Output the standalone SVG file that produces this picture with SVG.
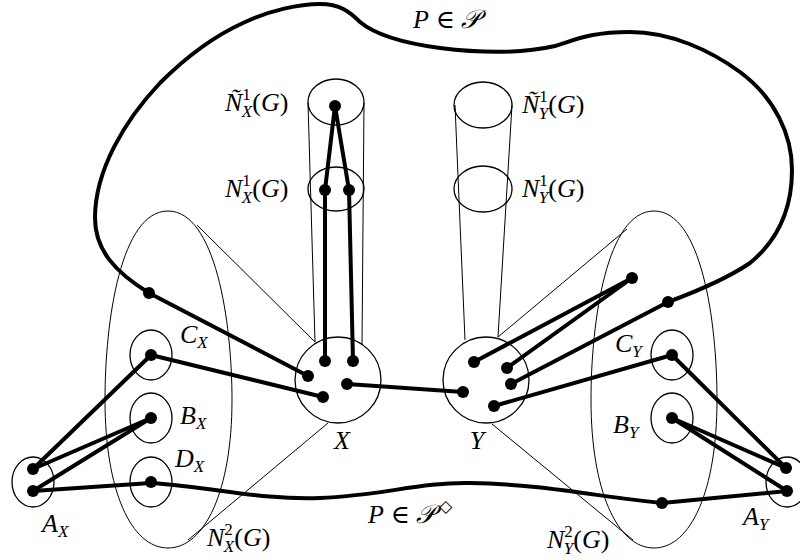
<svg xmlns="http://www.w3.org/2000/svg" width="800" height="560" viewBox="0 0 800 560">
<style>
.thin{fill:none;stroke:#000;stroke-width:1}
.ring{fill:none;stroke:#000;stroke-width:1.3}
.thick{fill:none;stroke:#000;stroke-width:4;stroke-linecap:round;stroke-linejoin:round}
.dot{fill:#000}
.lbl{font-family:"Liberation Serif","DejaVu Serif",serif;font-size:26px;fill:#000}
.it{font-style:italic}
.sm{font-size:17px}
</style>
<rect width="800" height="560" fill="#fff"/>

<g id="N2X">
<path class="thin" d="M168,211 C215,211 232,320 232,400 C232,490 205,548 168,548 C131,548 105,490 105,400 C105,320 121,211 168,211 Z"/>
<text class="lbl" x="207" y="546"><tspan class="it">N</tspan><tspan class="sm" dy="-11">2</tspan><tspan class="sm it" dx="-9" dy="17">X</tspan><tspan dy="-6">(</tspan><tspan class="it">G</tspan><tspan>)</tspan></text>
</g>
<g id="N2Y">
<path class="thin" d="M654,211 C701,211 717,320 717,400 C717,490 691,548 654,548 C617,548 591,490 591,400 C591,320 607,211 654,211 Z"/>
<text class="lbl" x="547" y="548"><tspan class="it">N</tspan><tspan class="sm" dy="-11">2</tspan><tspan class="sm it" dx="-9" dy="17">Y</tspan><tspan dy="-6">(</tspan><tspan class="it">G</tspan><tspan>)</tspan></text>
</g>

<g id="cones" class="thin">
<line x1="197" y1="225" x2="315" y2="342"/>
<line x1="188" y1="540" x2="328" y2="423"/>
<line x1="627" y1="229" x2="498" y2="337"/>
<line x1="633" y1="540" x2="492" y2="424"/>
<line x1="308" y1="103" x2="315" y2="342"/>
<line x1="364" y1="103" x2="362" y2="345"/>
<line x1="455" y1="105" x2="465" y2="340"/>
<line x1="512" y1="105" x2="498" y2="337"/>
</g>

<g id="NtX">
<ellipse class="ring" cx="336" cy="102" rx="28" ry="23"/>
<text class="lbl" x="225" y="111"><tspan class="it">Ñ</tspan><tspan class="sm" dy="-11">1</tspan><tspan class="sm it" dx="-9" dy="17">X</tspan><tspan dy="-6">(</tspan><tspan class="it">G</tspan><tspan>)</tspan></text>
<circle class="dot" cx="335" cy="106" r="6"/>
</g>
<g id="N1X">
<ellipse class="ring" cx="336" cy="189" rx="28" ry="22"/>
<text class="lbl" x="225" y="197"><tspan class="it">N</tspan><tspan class="sm" dy="-11">1</tspan><tspan class="sm it" dx="-9" dy="17">X</tspan><tspan dy="-6">(</tspan><tspan class="it">G</tspan><tspan>)</tspan></text>
<circle class="dot" cx="325" cy="190" r="6"/>
<circle class="dot" cx="349" cy="190" r="6"/>
</g>
<g id="NtY">
<ellipse class="ring" cx="483" cy="105" rx="29" ry="23"/>
<text class="lbl" x="522" y="113"><tspan class="it">Ñ</tspan><tspan class="sm" dy="-11">1</tspan><tspan class="sm it" dx="-9" dy="17">Y</tspan><tspan dy="-6">(</tspan><tspan class="it">G</tspan><tspan>)</tspan></text>
</g>
<g id="N1Y">
<ellipse class="ring" cx="483" cy="189" rx="29" ry="23"/>
<text class="lbl" x="522" y="197"><tspan class="it">N</tspan><tspan class="sm" dy="-11">1</tspan><tspan class="sm it" dx="-9" dy="17">Y</tspan><tspan dy="-6">(</tspan><tspan class="it">G</tspan><tspan>)</tspan></text>
</g>

<g id="X">
<circle class="ring" cx="338" cy="380" r="43"/>
<text class="lbl it" x="342" y="449" text-anchor="middle">X</text>
<circle class="dot" cx="308" cy="376" r="6"/>
<circle class="dot" cx="325" cy="361" r="6"/>
<circle class="dot" cx="353" cy="361" r="6"/>
<circle class="dot" cx="347" cy="384" r="6"/>
<circle class="dot" cx="323" cy="397" r="6"/>
</g>
<g id="Y">
<circle class="ring" cx="486" cy="380" r="43"/>
<text class="lbl it" x="477" y="449" text-anchor="middle">Y</text>
<circle class="dot" cx="474" cy="362" r="6"/>
<circle class="dot" cx="507" cy="368" r="6"/>
<circle class="dot" cx="511" cy="384" r="6"/>
<circle class="dot" cx="463" cy="392" r="6"/>
<circle class="dot" cx="494" cy="406" r="6"/>
</g>

<g id="CX">
<ellipse class="ring" cx="151" cy="355" rx="21" ry="25"/>
<text class="lbl" x="180" y="343"><tspan class="it">C</tspan><tspan class="sm it" dy="5">X</tspan></text>
<circle class="dot" cx="151" cy="355" r="6"/>
</g>
<g id="BX">
<ellipse class="ring" cx="151" cy="418" rx="21" ry="25"/>
<text class="lbl" x="180" y="424"><tspan class="it">B</tspan><tspan class="sm it" dy="5">X</tspan></text>
<circle class="dot" cx="151" cy="418" r="6"/>
</g>
<g id="DX">
<ellipse class="ring" cx="151" cy="482" rx="21" ry="25"/>
<text class="lbl" x="175" y="467"><tspan class="it">D</tspan><tspan class="sm it" dy="5">X</tspan></text>
<circle class="dot" cx="151" cy="482" r="6"/>
</g>
<g id="AX">
<ellipse class="ring" cx="33" cy="482" rx="21" ry="25"/>
<text class="lbl" x="42" y="532"><tspan class="it">A</tspan><tspan class="sm it" dy="5">X</tspan></text>
<circle class="dot" cx="33" cy="469" r="6"/>
<circle class="dot" cx="33" cy="491" r="6"/>
</g>
<g id="CY">
<ellipse class="ring" cx="672" cy="355" rx="21" ry="25"/>
<text class="lbl" x="615" y="352"><tspan class="it">C</tspan><tspan class="sm it" dy="5">Y</tspan></text>
<circle class="dot" cx="672" cy="355" r="6"/>
</g>
<g id="BY">
<ellipse class="ring" cx="672" cy="418" rx="21" ry="25"/>
<text class="lbl" x="613" y="433"><tspan class="it">B</tspan><tspan class="sm it" dy="5">Y</tspan></text>
<circle class="dot" cx="672" cy="418" r="6"/>
</g>
<g id="AY">
<ellipse class="ring" cx="787" cy="482" rx="21" ry="25"/>
<text class="lbl" x="743" y="525"><tspan class="it">A</tspan><tspan class="sm it" dy="5">Y</tspan></text>
<circle class="dot" cx="786" cy="468" r="6"/>
<circle class="dot" cx="787" cy="491" r="6"/>
</g>

<g id="Pbig">
<path class="thick" d="M308,376 L149,293 C115,272 95,250 95,218 C95,170 125,120 160,83 C185,58 210,38 243,23 C270,10 300,4 320,4 C340,4 350,12 360,22 C372,32 395,42 440,48 C480,53 520,54 555,46 C575,40 590,32 630,32 C670,32 710,50 740,72 C775,98 792,135 792,170 C792,210 778,240 750,263 C725,280 695,292 668,302 L511,384"/>
<circle class="dot" cx="149" cy="293" r="6"/>
<circle class="dot" cx="668" cy="302" r="6"/>
<text class="lbl" x="413" y="28"><tspan class="it">P</tspan> ∈ <tspan class="it">𝒫</tspan></text>
</g>
<g id="Pdia">
<path class="thick" d="M33,491 L151,483 C220,488 260,500 320,498 C380,496 420,482 470,483 C540,484 600,497 662,503 L787,491"/>
<circle class="dot" cx="662" cy="503" r="6"/>
<text class="lbl" x="368" y="523"><tspan class="it">P</tspan> ∈ <tspan class="it">𝒫</tspan><tspan class="sm" dx="4" dy="-11">◇</tspan></text>
</g>

<g id="connectors" class="thick">
<path d="M325,361 L325,190 L335,106 L349,190 L353,361"/>
<line x1="33" y1="469" x2="151" y2="355"/>
<line x1="33" y1="469" x2="151" y2="418"/>
<line x1="33" y1="491" x2="151" y2="418"/>
<line x1="151" y1="355" x2="323" y2="397"/>
<line x1="347" y1="384" x2="463" y2="392"/>
<line x1="474" y1="362" x2="632" y2="278"/>
<line x1="507" y1="368" x2="632" y2="278"/>
<line x1="494" y1="406" x2="672" y2="355"/>
<line x1="672" y1="355" x2="786" y2="468"/>
<line x1="672" y1="418" x2="786" y2="468"/>
<line x1="672" y1="418" x2="787" y2="491"/>
</g>
<circle class="dot" cx="632" cy="278" r="6"/>
</svg>
